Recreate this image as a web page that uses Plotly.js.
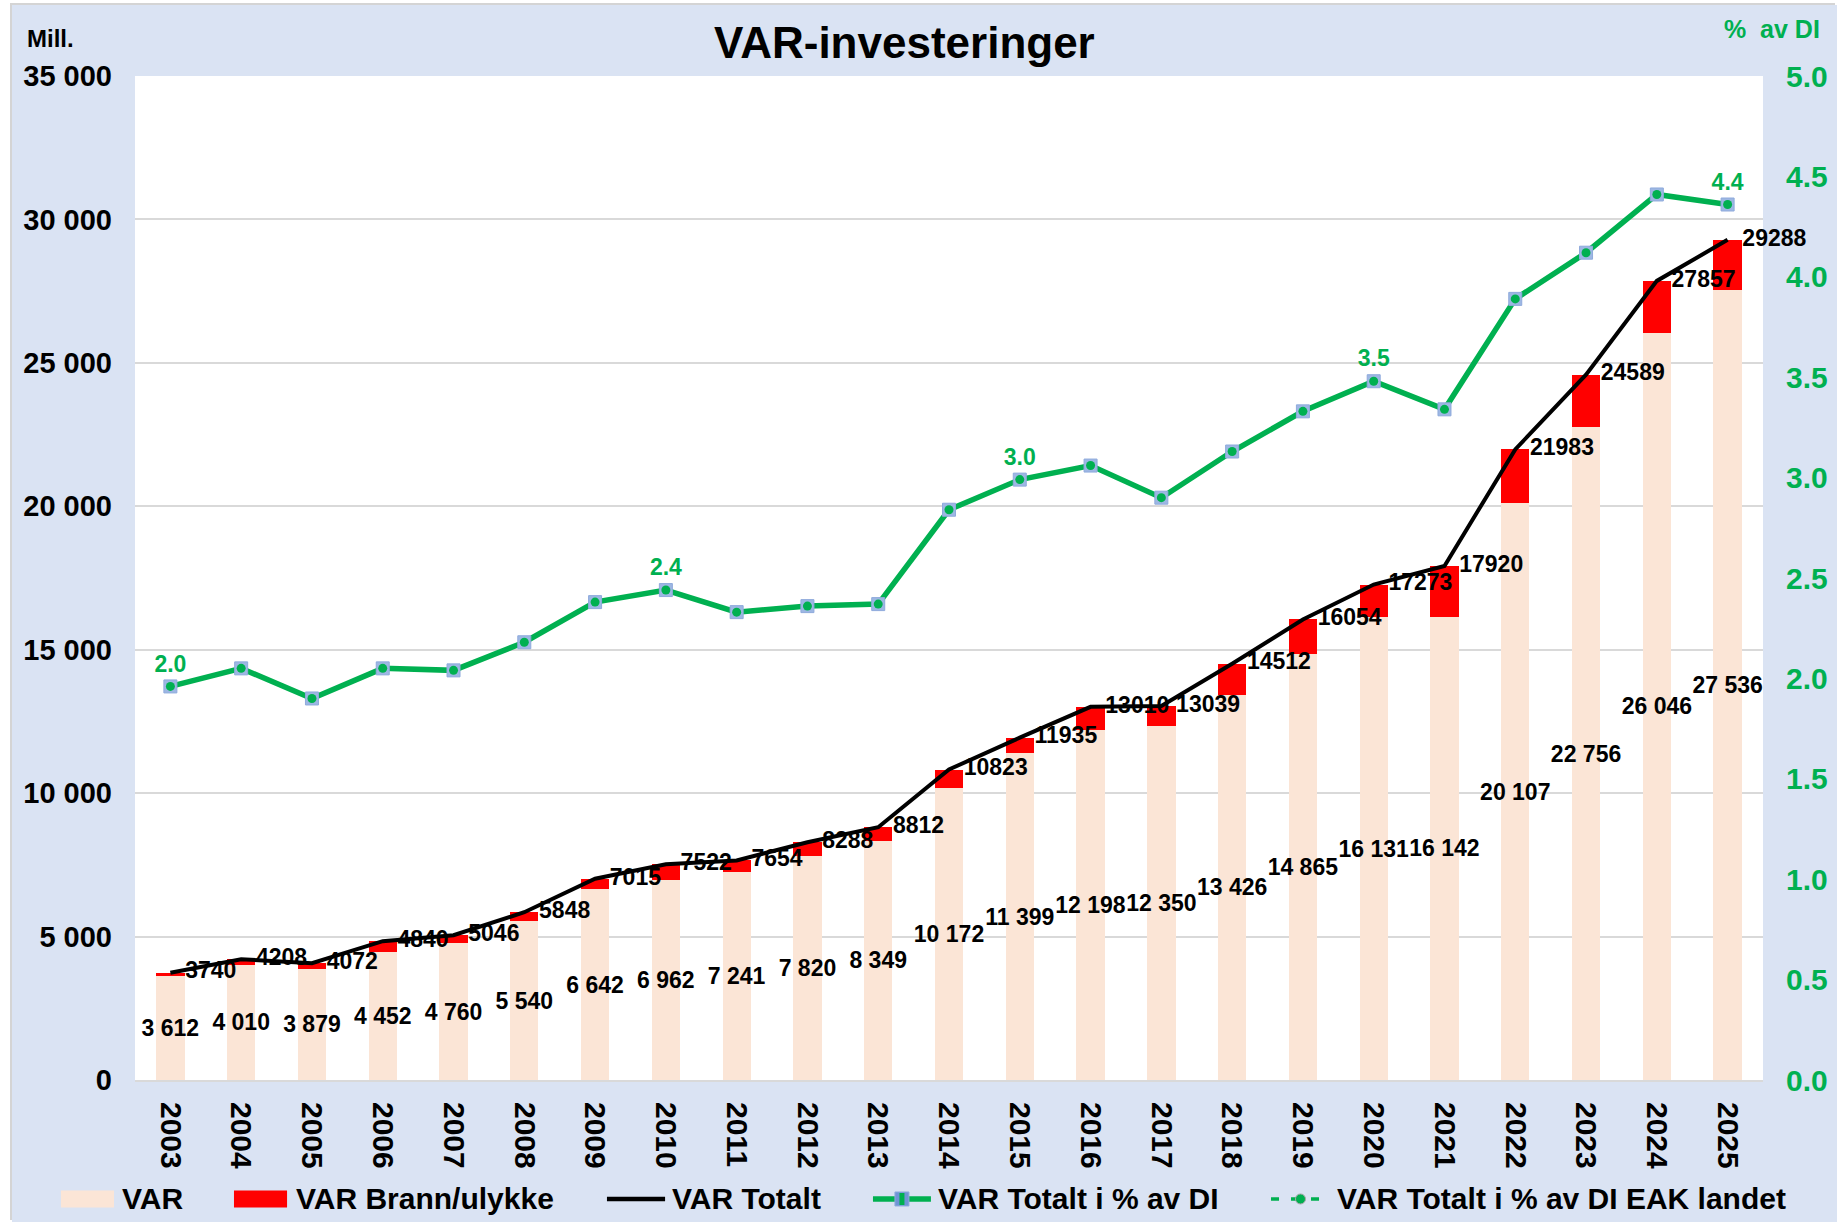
<!DOCTYPE html>
<html>
<head>
<meta charset="utf-8">
<script src="https://cdn.plot.ly/plotly-3.0.1.min.js"></script>
<style>
  html, body { margin: 0; padding: 0; background: #ffffff; }
  #chart { position: absolute; left: 12px; top: 5px; width: 1825px; height: 1217px;
           box-shadow: -2px -2px 0 #d4d4d4; }
</style>
</head>
<body>
<div id="chart"></div>
<script>
// ---- data ----
const years = ['2003','2004','2005','2006','2007','2008','2009','2010','2011','2012','2013','2014',
               '2015','2016','2017','2018','2019','2020','2021','2022','2023','2024','2025'];
const varValues = [3612, 4010, 3879, 4452, 4760, 5540, 6642, 6962, 7241, 7820, 8349, 10172,
                   11399, 12198, 12350, 13426, 14865, 16131, 16142, 20107, 22756, 26046, 27536];
const varTotalt = [3740, 4208, 4072, 4840, 5046, 5848, 7015, 7522, 7654, 8288, 8812, 10823,
                   11935, 13010, 13039, 14512, 16054, 17273, 17920, 21983, 24589, 27857, 29288];
const brannUlykke = varTotalt.map((t, i) => t - varValues[i]);
const pctAvDI = [1.96, 2.05, 1.90, 2.05, 2.04, 2.18, 2.38, 2.44, 2.33, 2.36, 2.37, 2.84,
                 2.99, 3.06, 2.90, 3.13, 3.33, 3.48, 3.34, 3.89, 4.12, 4.41, 4.36];
const pctLabelYears = ['2003', '2010', '2015', '2020', '2025'];
const eakLandet = years.map(() => null);
const legendNames = ['VAR', 'VAR Brann/ulykke', 'VAR Totalt', 'VAR Totalt i % av DI',
                     'VAR Totalt i % av DI EAK landet'];

const FONT = 'Liberation Sans, Arial, sans-serif';
const GREEN = '#00B050';
const PEACH = '#FBE5D6';
const RED = '#FF0000';

const traces = [
  {
    type: 'bar', name: legendNames[0], x: years, y: varValues,
    marker: { color: PEACH },
    texttemplate: '%{y:,}', textposition: 'inside', insidetextanchor: 'middle',
    constraintext: 'none', textangle: 0, cliponaxis: false,
    textfont: { family: FONT, size: 23, color: '#000000', weight: 'bold' },
    hoverinfo: 'skip'
  },
  {
    type: 'bar', name: legendNames[1], x: years, y: brannUlykke,
    marker: { color: RED }, textposition: 'none', hoverinfo: 'skip'
  },
  {
    type: 'scatter', mode: 'lines+markers+text', name: legendNames[2], x: years, y: varTotalt,
    line: { color: '#000000', width: 4 },
    marker: { size: 22, color: 'rgba(0,0,0,0)' },
    texttemplate: '%{y:d}', textposition: 'middle right', cliponaxis: false,
    textfont: { family: FONT, size: 23, color: '#000000', weight: 'bold' },
    hoverinfo: 'skip'
  },
  {
    type: 'scatter', mode: 'lines+markers+text', name: legendNames[3], x: years, y: pctAvDI,
    yaxis: 'y2',
    line: { color: GREEN, width: 5.5 },
    marker: { symbol: 'square', size: 13, color: '#9DB7E3', line: { color: '#8FAADC', width: 1 } },
    text: years.map((yr, i) => pctLabelYears.includes(yr) ? pctAvDI[i].toFixed(1) : ''),
    textposition: 'top center', cliponaxis: false,
    textfont: { family: FONT, size: 23, color: GREEN, weight: 'bold' },
    hoverinfo: 'skip'
  },
  {
    type: 'scatter', mode: 'markers', x: years, y: pctAvDI, yaxis: 'y2',
    marker: { symbol: 'circle', size: 9, color: GREEN }, hoverinfo: 'skip', cliponaxis: false
  },
  {
    type: 'scatter', mode: 'lines+markers', name: legendNames[4], x: years, y: eakLandet,
    yaxis: 'y2',
    line: { color: GREEN, width: 3, dash: 'dash' },
    marker: { symbol: 'circle', size: 8, color: GREEN, line: { color: '#A6A6A6', width: 1 } },
    hoverinfo: 'skip'
  }
];

// ---- legend drawn at the bottom, laid out like the original ----
const LEG_Y = -0.1185;
const legSwatchX = [[-0.0455, -0.0129], [0.0608, 0.0934], [0.2899, 0.3256], [0.4533, 0.4889], [0.6978, 0.7340]];
const legTextX = [-0.0086, 0.0983, 0.3292, 0.4926, 0.7377];
const px = (anchorX, half) => ({ xref: 'paper', yref: 'paper', xsizemode: 'pixel', ysizemode: 'pixel',
  xanchor: anchorX, yanchor: LEG_Y, x0: -half, x1: half, y0: -half, y1: half });

const shapes = [
  { type: 'rect', xref: 'paper', yref: 'paper', x0: legSwatchX[0][0], x1: legSwatchX[0][1],
    ysizemode: 'pixel', yanchor: LEG_Y, y0: -8.5, y1: 8.5, fillcolor: PEACH, line: { width: 0 } },
  { type: 'rect', xref: 'paper', yref: 'paper', x0: legSwatchX[1][0], x1: legSwatchX[1][1],
    ysizemode: 'pixel', yanchor: LEG_Y, y0: -8.5, y1: 8.5, fillcolor: RED, line: { width: 0 } },
  { type: 'line', xref: 'paper', yref: 'paper', x0: legSwatchX[2][0], x1: legSwatchX[2][1],
    y0: LEG_Y, y1: LEG_Y, line: { color: '#000000', width: 4.5 } },
  { type: 'line', xref: 'paper', yref: 'paper', x0: legSwatchX[3][0], x1: legSwatchX[3][1],
    y0: LEG_Y, y1: LEG_Y, line: { color: GREEN, width: 5.5 } },
  Object.assign({ type: 'rect', fillcolor: '#6F95D6', line: { color: '#8FAADC', width: 1 } },
    px((legSwatchX[3][0] + legSwatchX[3][1]) / 2, 7)),
  Object.assign({ type: 'rect', fillcolor: GREEN, line: { width: 0 } },
    { xref: 'paper', yref: 'paper', xsizemode: 'pixel', ysizemode: 'pixel',
      xanchor: (legSwatchX[3][0] + legSwatchX[3][1]) / 2, yanchor: LEG_Y, x0: -2.5, x1: 2.5, y0: -6, y1: 6 }),
  { type: 'line', xref: 'paper', yref: 'paper', x0: legSwatchX[4][0], x1: legSwatchX[4][1],
    y0: LEG_Y, y1: LEG_Y, line: { color: GREEN, width: 3.5, dash: '8px,12px' } },
  Object.assign({ type: 'circle', fillcolor: GREEN, line: { color: '#A6A6A6', width: 1 } },
    px((legSwatchX[4][0] + legSwatchX[4][1]) / 2, 5))
];

const legendAnnotations = legendNames.map((nm, i) => ({
  text: nm, xref: 'paper', yref: 'paper', x: legTextX[i], y: LEG_Y,
  xanchor: 'left', yanchor: 'middle', showarrow: false, borderpad: 0,
  font: { family: FONT, size: 30, color: '#000000', weight: 'bold' }
}));

const layout = {
  width: 1825, height: 1217,
  paper_bgcolor: '#DAE3F3', plot_bgcolor: '#FFFFFF',
  margin: { l: 123, r: 74, t: 71, b: 142 },
  separators: '. ',
  barmode: 'stack', bargap: 0.6,
  showlegend: false,
  font: { family: FONT, color: '#000000' },
  title: {
    text: 'VAR-investeringer', xref: 'container', x: 0.489, xanchor: 'center',
    yref: 'container', y: 0.969, yanchor: 'middle',
    font: { family: FONT, size: 44, color: '#000000', weight: 'bold' }
  },
  xaxis: {
    type: 'category', range: [-0.5, years.length - 0.5], autorange: false,
    tickangle: 90, ticks: '', ticklabelstandoff: 14,
    tickfont: { family: FONT, size: 30, color: '#000000', weight: 'bold' },
    showline: true, linecolor: '#D9D9D9', linewidth: 2, showgrid: false, zeroline: false
  },
  yaxis: {
    range: [0, 35000], dtick: 5000, tickformat: ',', ticks: '', ticklabelstandoff: 22,
    tickfont: { family: FONT, size: 29, color: '#000000', weight: 'bold' },
    showgrid: true, gridcolor: '#D9D9D9', gridwidth: 2, zeroline: false, showline: false
  },
  yaxis2: {
    overlaying: 'y', side: 'right', range: [0, 5], dtick: 0.5, tickformat: '.1f',
    ticks: '', ticklabelstandoff: 22,
    tickfont: { family: FONT, size: 30, color: GREEN, weight: 'bold' },
    showgrid: false, zeroline: false, showline: false
  },
  shapes: shapes,
  annotations: [
    { text: 'Mill.', xref: 'paper', yref: 'paper', x: -0.0522, y: 1.0369,
      xanchor: 'center', yanchor: 'middle', showarrow: false,
      font: { family: FONT, size: 24, color: '#000000', weight: 'bold' } },
    { text: '%  av DI', xref: 'paper', yref: 'paper', x: 1.0362, y: 1.0468,
      xanchor: 'right', yanchor: 'middle', showarrow: false,
      font: { family: FONT, size: 25, color: GREEN, weight: 'bold' } }
  ].concat(legendAnnotations)
};

Plotly.newPlot('chart', traces, layout, { displayModeBar: false, staticPlot: true });
</script>
</body>
</html>
